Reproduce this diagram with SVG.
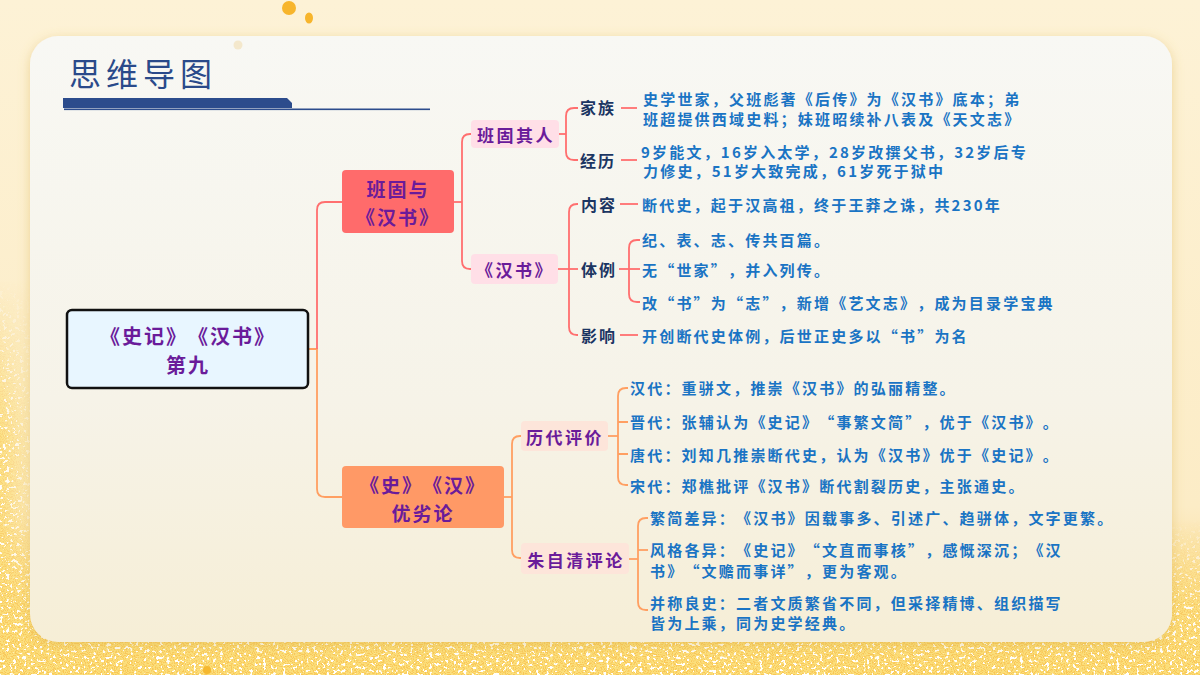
<svg xmlns="http://www.w3.org/2000/svg" width="1200" height="675" viewBox="0 0 1200 675">
<defs>
<linearGradient id="bgGrad" x1="0" y1="0" x2="0" y2="1">
<stop offset="0" stop-color="#fdf2d6"/>
<stop offset="0.75" stop-color="#fcecc6"/>
<stop offset="1" stop-color="#f9d27a"/>
</linearGradient>
<linearGradient id="cardGrad" x1="0" y1="0" x2="0" y2="1">
<stop offset="0" stop-color="#f8f8f4"/>
<stop offset="0.6" stop-color="#f6f3e8"/>
<stop offset="1" stop-color="#f6eed6"/>
</linearGradient>
<linearGradient id="bandGrad" x1="0" y1="0" x2="0" y2="1">
<stop offset="0" stop-color="#fff" stop-opacity="0"/>
<stop offset="0.55" stop-color="#fff" stop-opacity="0.85"/>
<stop offset="1" stop-color="#fff" stop-opacity="1"/>
</linearGradient>
<linearGradient id="leftGrad" x1="0" y1="0" x2="1" y2="0">
<stop offset="0" stop-color="#fff" stop-opacity="0.9"/>
<stop offset="1" stop-color="#fff" stop-opacity="0"/>
</linearGradient>
<linearGradient id="leftV" x1="0" y1="0" x2="0" y2="1">
<stop offset="0" stop-color="#fff" stop-opacity="0"/>
<stop offset="0.4" stop-color="#fff" stop-opacity="1"/>
</linearGradient>
<mask id="leftMaskV"><rect x="0" y="280" width="40" height="395" fill="url(#leftV)"/></mask>
<mask id="bandMask"><rect x="0" y="520" width="1200" height="155" fill="url(#bandGrad)"/><g mask="url(#leftMaskV)"><rect x="0" y="280" width="40" height="395" fill="url(#leftGrad)"/></g></mask>
<filter id="grain" x="0" y="0" width="100%" height="100%">
<feTurbulence type="fractalNoise" baseFrequency="0.9" numOctaves="2" seed="7" result="n"/>
<feColorMatrix in="n" type="matrix" values="0 0 0 0 0.97  0 0 0 0 0.74  0 0 0 0 0.2  6 0 0 0 -2.2"/>
<feComposite in2="SourceGraphic" operator="in"/>
</filter>
<filter id="whiteSpeck" x="0" y="0" width="100%" height="100%">
<feTurbulence type="fractalNoise" baseFrequency="0.3" numOctaves="2" seed="11" result="n"/>
<feColorMatrix in="n" type="matrix" values="0 0 0 0 1  0 0 0 0 1  0 0 0 0 1  28 0 0 0 -17.5"/>
<feComposite in2="SourceGraphic" operator="in"/>
</filter>
<filter id="shadow" x="-5%" y="-5%" width="110%" height="115%">
<feDropShadow dx="0" dy="3" stdDeviation="6" flood-color="#d8b04a" flood-opacity="0.45"/>
</filter>
<style>
text{text-spacing-trim:space-all}
.title{font-family:"Noto Sans CJK SC","Noto Sans",sans-serif;font-size:32px;fill:#2a4a8a;letter-spacing:5px}
.node{font-family:"Noto Sans CJK SC","Noto Sans",sans-serif;font-weight:700;fill:#6a1b9a;text-anchor:middle;dominant-baseline:central}
.n1{font-size:20px;letter-spacing:2px}
.n2{font-size:19px;letter-spacing:2px}
.n3{font-size:17px;letter-spacing:2.5px}
.lab{font-family:"Noto Sans CJK SC","Noto Sans",sans-serif;font-weight:700;font-size:16px;letter-spacing:2px;fill:#1b3562;dominant-baseline:central}
.txt{font-family:"Noto Sans CJK SC","Noto Sans",sans-serif;font-weight:600;font-size:15px;letter-spacing:2.2px;fill:#1a74c4;dominant-baseline:central}
.cr{fill:none;stroke:#ff6f6f;stroke-width:1.8}
.co{fill:none;stroke:#ff9f62;stroke-width:1.8}
.pink{fill:#ffdfe7}
.peach{fill:#fde5da}
</style>
</defs>

<!-- background -->
<rect x="0" y="0" width="1200" height="675" fill="url(#bgGrad)"/>
<g mask="url(#bandMask)">
<rect x="0" y="280" width="1200" height="395" fill="#f8c24a" opacity="0.75"/>
<rect x="0" y="280" width="1200" height="395" fill="#f8c34a" filter="url(#grain)"/>
<rect x="0" y="280" width="1200" height="395" fill="#fff" filter="url(#whiteSpeck)"/>
</g>
<circle cx="289" cy="8" r="7" fill="#f7b52c"/>
<ellipse cx="309" cy="18" rx="4" ry="5.5" fill="#f7b52c"/>
<circle cx="207" cy="670" r="4" fill="#f5b830"/>

<!-- card -->
<rect x="30" y="36" width="1142" height="606" rx="28" fill="url(#cardGrad)" filter="url(#shadow)"/>
<circle cx="238" cy="45" r="4.5" fill="#f4e8cc"/>

<!-- title -->
<g id="title">
<text class="title" x="69" y="86">思维导图</text>
<path d="M63,98 H287 L292,103 V108 H63 Z" fill="#2c4c8c"/>
<rect x="64" y="108.5" width="366" height="1.6" fill="#2c4c8c"/>
</g>

<!-- connectors -->
<g id="connectors">
<path class="co" d="M308,349 H317 V489 Q317,497 325,497 H342"/>
<path class="cr" d="M317,349 V210 Q317,202 325,202 H342"/>
<path class="cr" d="M454,202 H462"/>
<path class="cr" d="M472,134 H470 Q462,134 462,142 V261 Q462,269 470,269 H472"/>
<path class="cr" d="M559,134 H566"/>
<path class="cr" d="M578,108 H574 Q566,108 566,116 V152 Q566,160 574,160 H578"/>
<path class="cr" d="M621,108 H637"/>
<path class="cr" d="M621,160 H637"/>
<path class="cr" d="M558,269 H578"/>
<path class="cr" d="M578,204 H577 Q569,204 569,212 V327 Q569,335 577,335 H578"/>
<path class="cr" d="M620,204 H638"/>
<path class="cr" d="M620,335 H638"/>
<path class="cr" d="M619,269 H640"/>
<path class="cr" d="M640,240 H637 Q629,240 629,248 V294 Q629,302 637,302 H640"/>
<path class="co" d="M504,497 H512"/>
<path class="co" d="M522,436 H520 Q512,436 512,444 V550 Q512,558 520,558 H522"/>
<path class="co" d="M608,436 H618"/>
<path class="co" d="M628,388 H626 Q618,388 618,396 V477 Q618,485 626,485 H628"/>
<path class="co" d="M618,422 H628 M618,454 H628"/>
<path class="co" d="M629,559 H638"/>
<path class="co" d="M648,518 H646 Q638,518 638,526 V602 Q638,610 646,610 H648"/>
<path class="co" d="M638,550 H648"/>
</g>

<!-- root -->
<g id="root">
<rect x="67" y="310" width="241" height="78" rx="5" fill="#e8f6ff" stroke="#111" stroke-width="2.5"/>
<text class="node n1" x="188" y="335">《史记》《汉书》</text>
<text class="node n1" x="188" y="364">第九</text>
</g>

<g id="node-bangu">
<rect x="342" y="170" width="112" height="63" rx="4" fill="#ff6b6b"/>
<text class="node n2" x="398" y="188">班固与</text>
<text class="node n2" x="398" y="216">《汉书》</text>
</g>

<g id="node-youlie">
<rect x="342" y="466" width="162" height="62" rx="4" fill="#ff9966"/>
<text class="node n2" x="423" y="484">《史》《汉》</text>
<text class="node n2" x="423" y="512">优劣论</text>
</g>

<g id="node-bangu-ren">
<rect class="pink" x="471" y="120" width="88" height="28" rx="4"/>
<text class="node n3" x="516" y="134">班固其人</text>
</g>

<g id="node-hanshu">
<rect class="pink" x="471" y="254" width="87" height="30" rx="4"/>
<text class="node n3" x="515" y="269">《汉书》</text>
</g>

<g id="node-jiazu">
<text class="lab" x="580" y="107">家族</text>
<text class="txt" x="643" y="98">史学世家，父班彪著《后传》为《汉书》底本；弟</text>
<text class="txt" x="643" y="118">班超提供西域史料；妹班昭续补八表及《天文志》</text>
</g>

<g id="node-jingli">
<text class="lab" x="580" y="160">经历</text>
<text class="txt" x="641" y="151">9岁能文，16岁入太学，28岁改撰父书，32岁后专</text>
<text class="txt" x="643" y="170">力修史，51岁大致完成，61岁死于狱中</text>
</g>

<g id="node-neirong">
<text class="lab" x="581" y="204">内容</text>
<text class="txt" x="642" y="204">断代史，起于汉高祖，终于王莽之诛，共230年</text>
</g>

<g id="node-tili">
<text class="lab" x="581" y="269">体例</text>
<text class="txt" x="642" y="239">纪、表、志、传共百篇。</text>
<text class="txt" x="642" y="269">无“世家”，并入列传。</text>
<text class="txt" x="642" y="302">改“书”为“志”，新增《艺文志》，成为目录学宝典</text>
</g>

<g id="node-yingxiang">
<text class="lab" x="581" y="335">影响</text>
<text class="txt" x="642" y="335">开创断代史体例，后世正史多以“书”为名</text>
</g>

<g id="node-lidai">
<rect class="peach" x="521" y="421" width="87" height="30" rx="4"/>
<text class="node n3" x="565" y="436">历代评价</text>
<text class="txt" x="630" y="387">汉代：重骈文，推崇《汉书》的弘丽精整。</text>
<text class="txt" x="630" y="421">晋代：张辅认为《史记》“事繁文简”，优于《汉书》。</text>
<text class="txt" x="630" y="454">唐代：刘知几推崇断代史，认为《汉书》优于《史记》。</text>
<text class="txt" x="630" y="485">宋代：郑樵批评《汉书》断代割裂历史，主张通史。</text>
</g>

<g id="node-zhuziqing">
<rect class="peach" x="521" y="543" width="108" height="31" rx="4"/>
<text class="node n3" x="576" y="559">朱自清评论</text>
<text class="txt" x="650" y="517">繁简差异：《汉书》因载事多、引述广、趋骈体，文字更繁。</text>
<text class="txt" x="650" y="549">风格各异：《史记》“文直而事核”，感慨深沉；《汉</text>
<text class="txt" x="650" y="570">书》“文赡而事详”，更为客观。</text>
<text class="txt" x="650" y="602">并称良史：二者文质繁省不同，但采择精博、组织描写</text>
<text class="txt" x="650" y="622">皆为上乘，同为史学经典。</text>
</g>
</svg>
